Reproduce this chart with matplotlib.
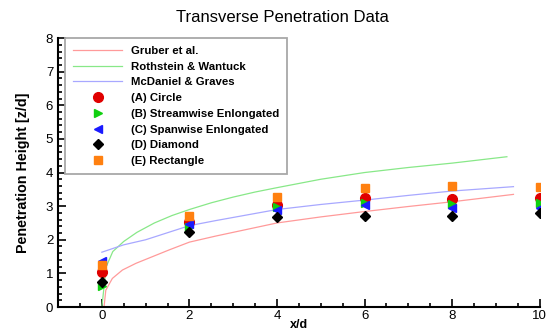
import matplotlib
matplotlib.use('Agg')
import matplotlib.pyplot as plt
from matplotlib.ticker import MultipleLocator

plt.rcParams['font.family'] = ['Liberation Sans', 'DejaVu Sans']

# Correlation curves
gruber_x = [0.05, 0.09, 0.24, 0.47, 0.78, 1.16, 1.54, 2.0, 2.6, 4.0, 5.0, 6.0, 7.0, 8.0, 9.4]
gruber_y = [0.0, 0.5, 0.85, 1.1, 1.3, 1.5, 1.7, 1.93, 2.11, 2.5, 2.68, 2.84, 2.99, 3.13, 3.35]

rothstein_x = [0.0, 0.05, 0.1, 0.25, 0.5, 0.8, 1.2, 1.6, 2.0, 2.5, 3.0, 3.5, 4.0, 5.0, 6.0, 7.0, 8.0, 9.25]
rothstein_y = [0.0, 0.6, 1.2, 1.65, 1.95, 2.22, 2.5, 2.72, 2.9, 3.1, 3.27, 3.42, 3.55, 3.8, 4.0, 4.15, 4.28, 4.47]

mcdaniel_x = [0.0, 0.5, 1.0, 2.0, 2.6, 4.0, 5.0, 6.0, 7.0, 8.0, 9.4]
mcdaniel_y = [1.63, 1.85, 2.0, 2.42, 2.57, 2.9, 3.05, 3.18, 3.32, 3.45, 3.58]

# Measured penetration heights
xd = [0, 2, 4, 6, 8, 10]
circle = [1.03, 2.52, 3.04, 3.23, 3.21, 3.23]
streamwise = [0.61, 2.39, 2.97, 3.10, 3.07, 3.10]
spanwise = [1.36, 2.47, 2.89, 3.04, 2.94, 2.94]
diamond = [0.74, 2.22, 2.69, 2.71, 2.71, 2.79]
rectangle = [1.26, 2.71, 3.28, 3.55, 3.61, 3.58]

fig = plt.figure(figsize=(5.53, 3.31), dpi=100)
ax = fig.add_axes([0.105, 0.0725, 0.871, 0.8125])

ax.plot(gruber_x, gruber_y, color='#ff9a9a', lw=0.9, label='Gruber et al.')
ax.plot(rothstein_x, rothstein_y, color='#88e888', lw=0.9, label='Rothstein & Wantuck')
ax.plot(mcdaniel_x, mcdaniel_y, color='#a8a8ff', lw=0.9, label='McDaniel & Graves')

ax.plot(xd, circle, 'o', color='#e00000', ms=7, ls='none', label='(A) Circle')
ax.plot(xd, streamwise, '>', color='#10d010', ms=5.5, ls='none', label='(B) Streamwise Enlongated')
ax.plot(xd, spanwise, '<', color='#1a1aff', ms=5.5, ls='none', label='(C) Spanwise Enlongated')
ax.plot(xd, diamond, 'D', color='black', ms=5, ls='none', label='(D) Diamond')
ax.plot(xd, rectangle, 's', color='#ff8010', ms=5.5, ls='none', label='(E) Rectangle')

ax.set_xlim(-1, 10)
ax.set_ylim(0, 8)
ax.xaxis.set_major_locator(MultipleLocator(2))
ax.xaxis.set_minor_locator(MultipleLocator(0.5))
ax.yaxis.set_major_locator(MultipleLocator(1))
ax.yaxis.set_minor_locator(MultipleLocator(0.2))
ax.tick_params(which='both', direction='in', labelsize=9.5, width=1.2)
ax.tick_params(which='major', length=6)
ax.tick_params(axis='x', which='major', pad=2)
ax.tick_params(which='minor', length=3)

ax.spines['top'].set_visible(False)
ax.spines['right'].set_visible(False)
ax.spines['left'].set_linewidth(1.5)
ax.spines['bottom'].set_linewidth(1.5)

fig.text(0.511, 0.948, 'Transverse Penetration Data', fontsize=12, ha='center', va='center')
ax.set_xlabel('x/d', fontsize=9, fontweight='bold', labelpad=-2)
ax.set_ylabel('Penetration Height [z/d]', fontsize=10.3, fontweight='bold', labelpad=11)

leg = ax.legend(loc='upper left', bbox_to_anchor=(0.0145, 1.0), numpoints=1,
                prop={'weight': 'bold', 'size': 8.2}, handlelength=4.3,
                handletextpad=0.8, labelspacing=0.5, borderpad=0.7,
                fancybox=False, framealpha=1, borderaxespad=0)
leg.get_frame().set_edgecolor('#a8a8a8')
leg.get_frame().set_linewidth(1.3)

fig.savefig('out.png', dpi=100)
